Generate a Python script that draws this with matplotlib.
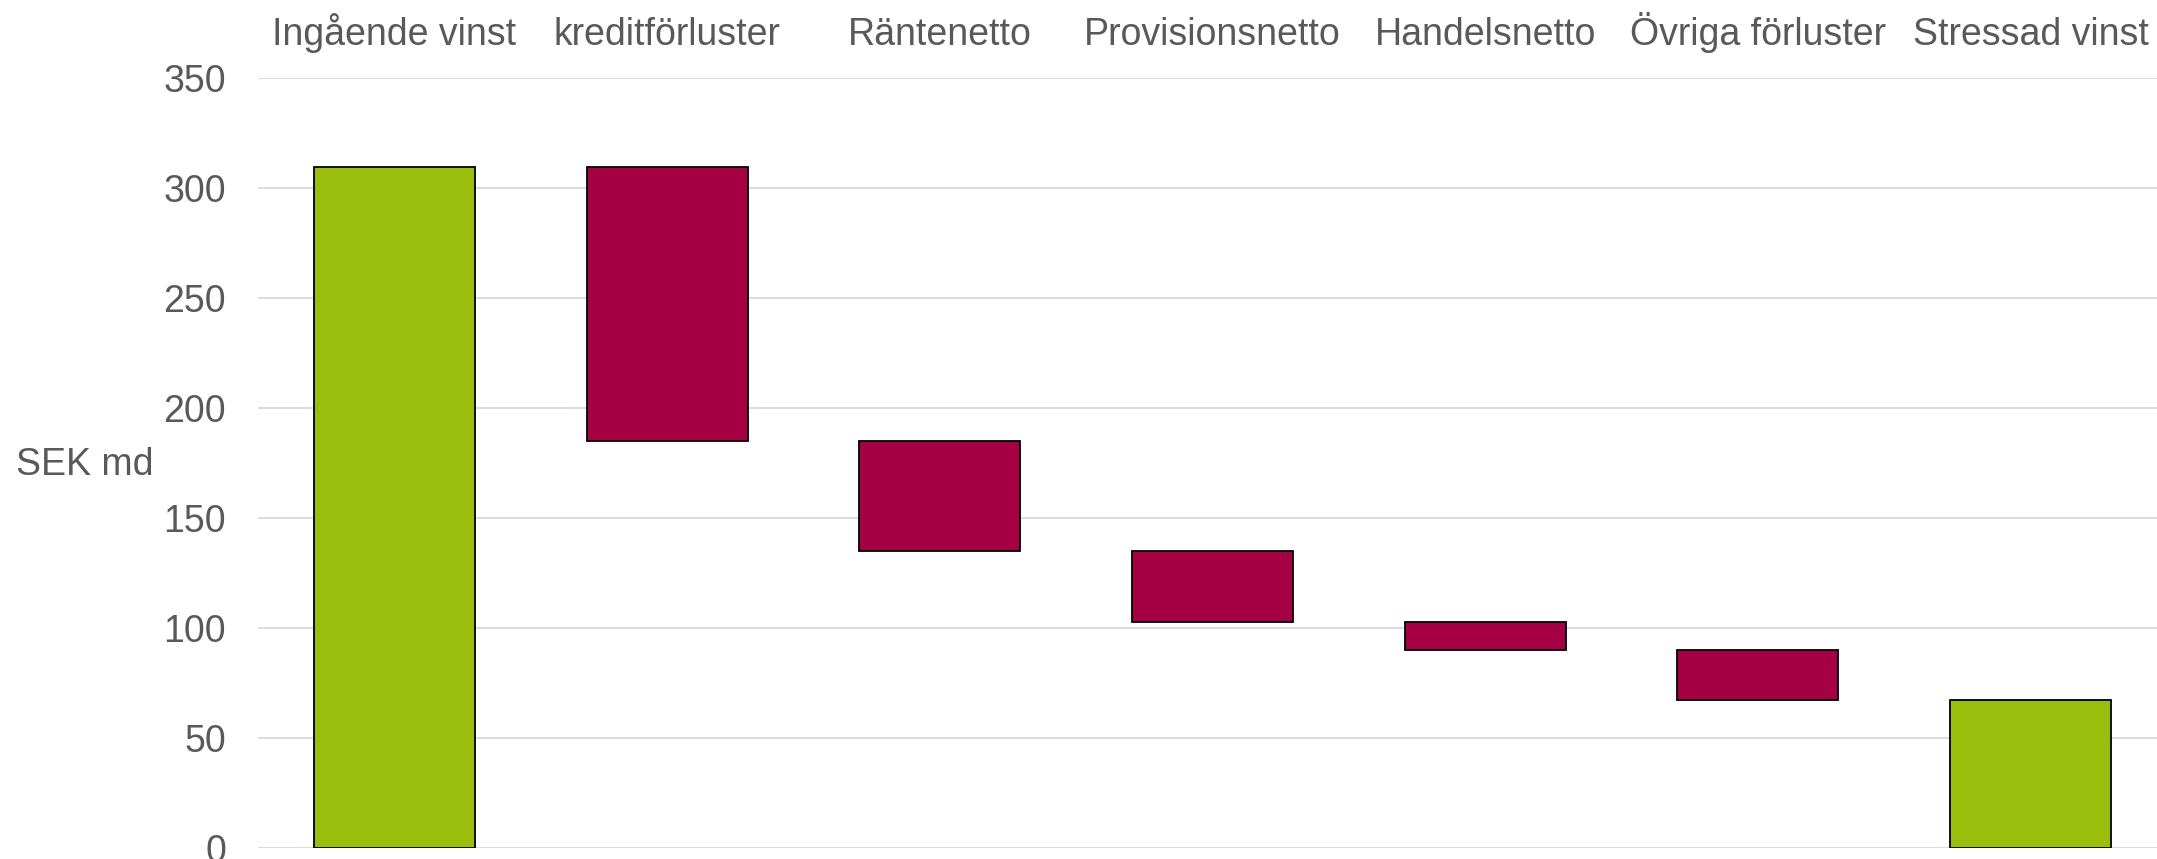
import matplotlib
matplotlib.use("Agg")

import numpy as np
import matplotlib.pyplot as plt

# waterfall data (SEK md)
categories = ["Ingående vinst", "kreditförluster", "Räntenetto", "Provisionsnetto",
              "Handelsnetto", "Övriga förluster", "Stressad vinst"]
start_value = 309.5
changes = [-124.5, -50.0, -32.0, -13.0, -22.5]
end_value = start_value + sum(changes)

green = "#9bbe0c"
red = "#a50044"
text_col = "#595959"

plt.rcParams["font.family"] = ["Liberation Sans", "DejaVu Sans"]

# build bottoms/heights for the floating bars
levels = np.concatenate([[start_value], start_value + np.cumsum(changes)])
bottoms = [0.0] + list(levels[1:]) + [0.0]
heights = [start_value] + [-c for c in changes] + [end_value]
colors = [green] + [red] * len(changes) + [green]

W, H = 2157, 859
fig = plt.figure(figsize=(W / 100, H / 100), dpi=100)
ax = fig.add_axes([258 / W, (H - 848.3) / H, (2167 - 258) / W, (848.3 - 78) / H])

x = np.arange(len(categories))
ax.bar(x, heights, bottom=bottoms, width=0.59, color=colors,
       edgecolor="black", linewidth=1.3, zorder=3)

ax.set_xlim(-0.5, len(categories) - 0.5)
ax.set_ylim(0, 350)
ax.set_yticks(np.arange(0, 351, 50))
ax.yaxis.grid(True, color="#d9d9d9", linewidth=1.3, zorder=0)
ax.set_axisbelow(True)

ax.xaxis.tick_top()
ax.set_xticks(x)
ax.set_xticklabels(categories)
ax.tick_params(axis="x", length=0, pad=18, labelsize=27, labelcolor=text_col)
ax.tick_params(axis="y", length=0, pad=23, labelsize=27, labelcolor=text_col)

for s in ax.spines.values():
    s.set_visible(False)

fig.text(16 / W, (H - 465) / H, "SEK md", fontsize=27, color=text_col,
         ha="left", va="center")

fig.savefig("out.png", dpi=100)
plt.close(fig)
